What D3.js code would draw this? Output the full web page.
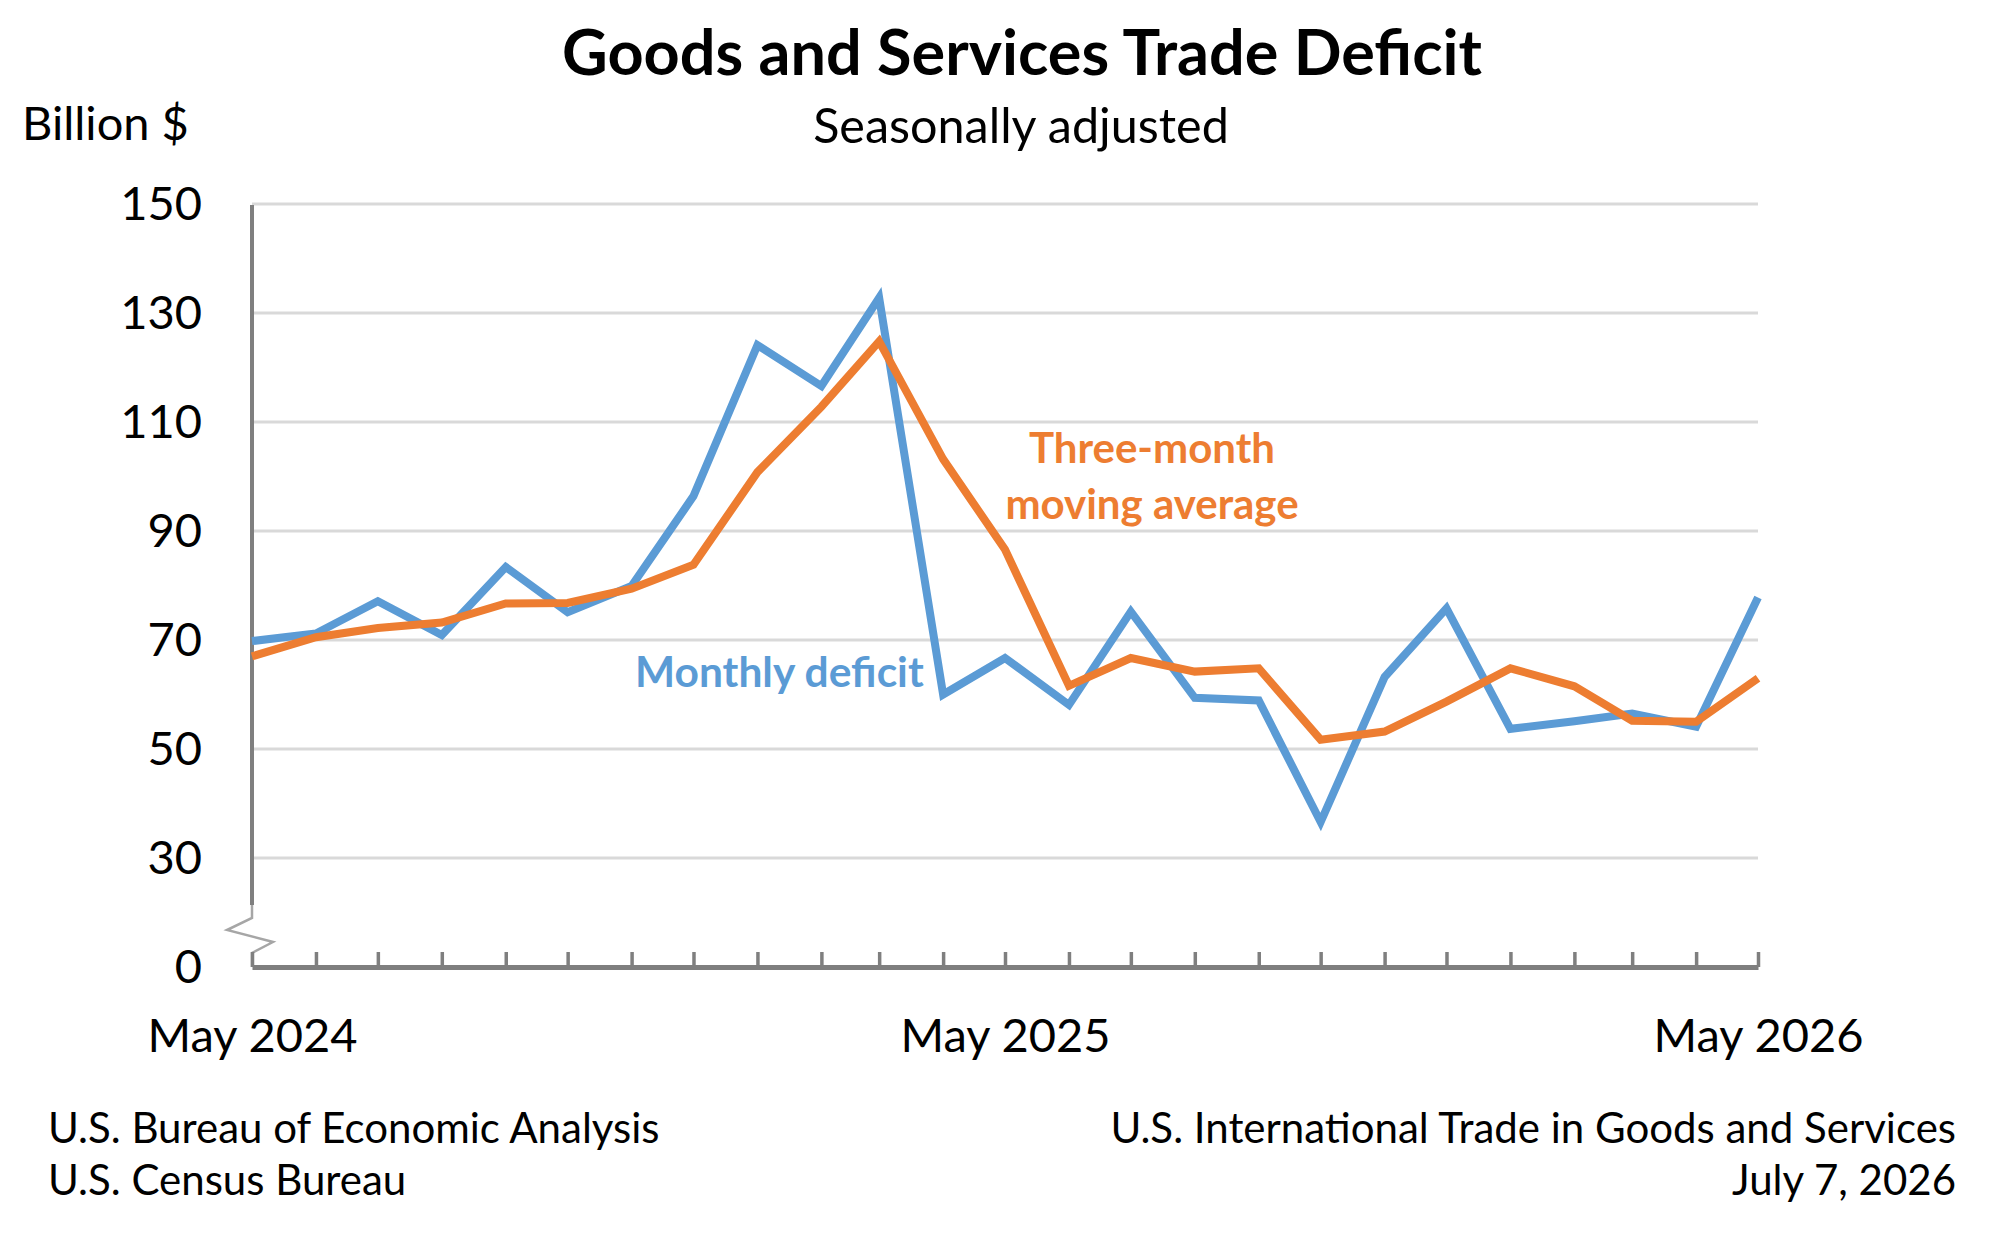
<!DOCTYPE html>
<html>
<head>
<meta charset="utf-8">
<script src="https://cdn.jsdelivr.net/npm/d3@7"></script>
<style>
  html, body { margin: 0; padding: 0; background: #fff; }
  svg { display: block; font-family: Lato, "Open Sans", sans-serif; }
</style>
</head>
<body>
<div id="chart"></div>
<script>
// months shown on the x axis (May 2024 .. May 2026)
const months = ["2024-05","2024-06","2024-07","2024-08","2024-09","2024-10","2024-11","2024-12",
                "2025-01","2025-02","2025-03","2025-04","2025-05","2025-06","2025-07","2025-08",
                "2025-09","2025-10","2025-11","2025-12","2026-01","2026-02","2026-03","2026-04","2026-05"];
// billion $, seasonally adjusted
const monthlyDeficit = [69.8, 71.2, 77.1, 70.9, 83.4, 75.1, 79.9, 96.4, 124.1, 116.6, 132.8, 60.0, 66.7,
                        58.1, 75.2, 59.4, 58.9, 36.6, 63.2, 75.8, 53.7, 55.1, 56.5, 54.1, 77.8];
const movingAverage  = [67.0, 70.5, 72.2, 73.2, 76.7, 76.8, 79.4, 83.8, 100.8, 112.8, 124.8, 103.2, 86.6,
                        61.6, 66.7, 64.2, 64.8, 51.7, 53.2, 58.7, 64.8, 61.5, 55.2, 55.0, 63.0];
const yTicks = [30, 50, 70, 90, 110, 130, 150];
const xLabelMonths = ["2024-05", "2025-05", "2026-05"];

const W = 2016, H = 1249;
const plotLeft = 252, plotRight = 1758, plotTop = 204, plotBase = 967;
const blue = "#5b9bd5", orange = "#ed7d31";

const parse = d3.timeParse("%Y-%m");
const dates = months.map(parse);

const svg = d3.select("#chart").append("svg")
  .attr("width", W).attr("height", H);
svg.append("rect").attr("width", W).attr("height", H).attr("fill", "#fff");

const x = d3.scaleTime()
  .domain(d3.extent(dates))
  .range([plotLeft, plotRight]);

// axis is broken below 30; the baseline stands for 0 one step under 30
const yBreak = 10;
const y = d3.scaleLinear()
  .domain([yBreak, 150])
  .range([plotBase, plotTop]);

// gridlines
svg.append("g")
  .selectAll("line")
  .data(yTicks)
  .enter()
  .append("line")
  .attr("x1", plotLeft)
  .attr("x2", plotRight)
  .attr("y1", d => y(d))
  .attr("y2", d => y(d))
  .style("stroke", "#d9d9d9")
  .style("stroke-width", 3);

// y axis labels
const yAxis = d3.axisLeft(y)
  .tickValues([yBreak].concat(yTicks))
  .tickSize(0)
  .tickPadding(50)
  .tickFormat(d => d === yBreak ? "0" : d);

svg.append("g")
  .attr("transform", `translate(${plotLeft},0)`)
  .call(yAxis)
  .call(g => g.select(".domain").remove())
  .selectAll("text")
  .style("font-family", "Lato, sans-serif")
  .style("font-size", "47px")
  .style("fill", "#000");

// y axis line with break marker
svg.append("line")
  .attr("x1", plotLeft).attr("x2", plotLeft)
  .attr("y1", y(150) + 1).attr("y2", plotBase - 62)
  .style("stroke", "#7f7f7f")
  .style("stroke-width", 4);

svg.append("path")
  .attr("d", d3.line()([[plotLeft, plotBase - 62], [plotLeft, plotBase - 49], [plotLeft - 25, plotBase - 37],
                        [plotLeft + 21, plotBase - 25], [plotLeft, plotBase - 14], [plotLeft, plotBase]]))
  .style("fill", "none")
  .style("stroke", "#a6a6a6")
  .style("stroke-width", 2.5);

// x axis
const fmtKey = d3.timeFormat("%Y-%m");
const fmtLabel = d3.timeFormat("%b %Y");
const xAxis = d3.axisBottom(x)
  .tickValues(dates)
  .tickSizeInner(-15)
  .tickSizeOuter(0)
  .tickPadding(52)
  .tickFormat(d => xLabelMonths.includes(fmtKey(d)) ? fmtLabel(d) : "");

const gx = svg.append("g")
  .attr("transform", `translate(0,${plotBase})`)
  .call(xAxis);
gx.select(".domain")
  .style("stroke", "#7f7f7f")
  .style("stroke-width", 5);
gx.selectAll(".tick line")
  .style("stroke", "#7f7f7f")
  .style("stroke-width", 3.5);
gx.selectAll("text")
  .style("font-family", "Lato, sans-serif")
  .style("font-size", "47px")
  .style("fill", "#000");

// series lines
const line = d3.line()
  .x((d, i) => x(dates[i]))
  .y(d => y(d));

svg.append("path")
  .datum(monthlyDeficit)
  .attr("d", line)
  .style("fill", "none")
  .style("stroke", blue)
  .style("stroke-width", 8)
  .style("stroke-linejoin", "miter");

svg.append("path")
  .datum(movingAverage)
  .attr("d", line)
  .style("fill", "none")
  .style("stroke", orange)
  .style("stroke-width", 8)
  .style("stroke-linejoin", "miter");

// series labels
svg.append("text")
  .attr("x", 635).attr("y", 687)
  .style("font-size", "42.5px").style("font-weight", 700)
  .style("fill", blue)
  .text("Monthly deficit");

svg.append("g")
  .selectAll("text")
  .data(["Three-month", "moving average"])
  .enter()
  .append("text")
  .attr("x", 1152)
  .attr("y", (d, i) => 463 + i * 56)
  .attr("text-anchor", "middle")
  .style("font-size", "42px").style("font-weight", 700)
  .style("fill", orange)
  .text(d => d);

// titles
svg.append("text")
  .attr("x", 1022).attr("y", 75)
  .attr("text-anchor", "middle")
  .style("font-size", "63px").style("font-weight", 700)
  .text("Goods and Services Trade Deficit");

svg.append("text")
  .attr("x", 1021).attr("y", 143)
  .attr("text-anchor", "middle")
  .style("font-size", "48.5px")
  .text("Seasonally adjusted");

svg.append("text")
  .attr("x", 22).attr("y", 140)
  .style("font-size", "47px")
  .text("Billion $");

// sources
svg.append("g")
  .selectAll("text")
  .data(["U.S. Bureau of Economic Analysis", "U.S. Census Bureau"])
  .enter()
  .append("text")
  .attr("x", 48)
  .attr("y", (d, i) => 1143 + i * 52)
  .style("font-size", "42px")
  .text(d => d);

svg.append("g")
  .selectAll("text")
  .data(["U.S. International Trade in Goods and Services", "July 7, 2026"])
  .enter()
  .append("text")
  .attr("x", 1956)
  .attr("y", (d, i) => 1143 + i * 52)
  .attr("text-anchor", "end")
  .style("font-size", "42px")
  .text(d => d);
</script>
</body>
</html>
